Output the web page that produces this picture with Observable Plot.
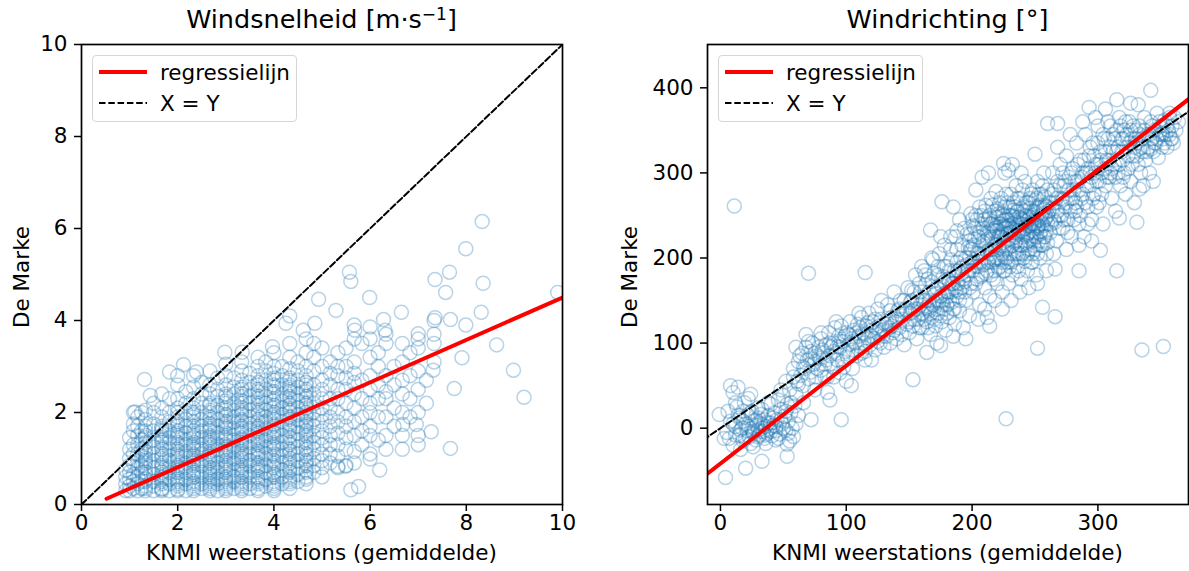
<!DOCTYPE html>
<html><head><meta charset="utf-8">
<script src="https://cdn.jsdelivr.net/npm/d3@7"></script>
<script src="https://cdn.jsdelivr.net/npm/@observablehq/plot@0.6"></script>
<style>
body{margin:0;background:#fff;}
#wrap{position:relative;width:1189px;height:571px;overflow:hidden;font-family:"DejaVu Sans",sans-serif;color:#000;background:#fff}
.panel{position:absolute;top:0}
.txt{position:absolute;white-space:nowrap;line-height:1;transform:translate(-50%,-50%)}
.ylab{position:absolute;white-space:nowrap;line-height:1;transform:translate(-50%,-50%) rotate(-90deg)}
.title{font-size:25.5px}
.title sup{font-size:17px;vertical-align:0.5em;line-height:0}
.axlab{font-size:21.5px}
.legend{position:absolute;width:205px;height:67px;border:1px solid #d6d6d6;border-radius:4px;background:rgba(255,255,255,0.85);box-sizing:border-box}
.legend svg{position:absolute;left:0;top:0}
.legend .lt{position:absolute;left:67px;font-size:21.5px;line-height:1;white-space:nowrap}
</style></head>
<body><div id="wrap"></div>
<script>
// ---------- Data: Windsnelheid [m/s] (KNMI mean vs De Marke) ----------
const speedTicks = [0, 2, 4, 6, 8, 10];
const speedColX = [0.92,1.0,1.08,1.17,1.25,1.33,1.5,1.67,1.83,2.0,2.17,2.33,2.5,2.67,2.83,3.0,3.17,3.33,3.5,3.67,3.83,4.0,4.17,4.33,4.5,4.67,4.83,5.0,5.17,5.33,5.5,5.67,5.83,6.0,6.17,6.33,6.5,6.67,6.83,7.0,7.17,7.33];
const speedColY = [
  [0.3,0.45,0.6,0.75],
  [0.3,0.4,0.55,0.7,0.85,1.0,1.2,1.45],
  [0.35,0.5,0.65,0.9,1.1,1.3,1.6,1.75,2.0],
  [0.3,0.45,0.6,0.8,0.95,1.1,1.3,1.5,1.7,1.9],
  [0.35,0.5,0.7,0.85,1.05,1.2,1.4,1.6,2.0],
  [0.3,0.4,0.55,0.7,0.9,1.0,1.15,1.35,1.5,1.7,1.85,2.05],
  [0.3,0.4,0.5,0.65,0.8,0.95,1.1,1.25,1.4,1.6,1.75,2.0,2.2],
  [0.3,0.35,0.5,0.6,0.7,0.85,1.0,1.1,1.25,1.4,1.5,1.65,1.9,2.1,2.4],
  [0.3,0.45,0.55,0.7,0.8,0.95,1.05,1.2,1.35,1.45,1.6,1.8,2.0,2.3],
  [0.3,0.4,0.5,0.6,0.75,0.85,1.0,1.1,1.2,1.35,1.5,1.6,1.75,1.9,2.1,2.3,2.6,2.8],
  [0.3,0.45,0.55,0.7,0.8,0.9,1.05,1.15,1.3,1.4,1.55,1.7,1.85,2.0,2.2,2.45],
  [0.3,0.4,0.5,0.65,0.75,0.9,1.0,1.1,1.25,1.35,1.5,1.6,1.8,1.95,2.1,2.3,2.55,2.8],
  [0.35,0.45,0.6,0.7,0.85,0.95,1.1,1.2,1.3,1.45,1.6,1.7,1.85,2.0,2.2,2.4,2.65],
  [0.3,0.4,0.5,0.6,0.7,0.8,0.95,1.05,1.15,1.3,1.4,1.5,1.65,1.75,1.9,2.05,2.2,2.4,2.6,2.9],
  [0.3,0.45,0.55,0.7,0.8,0.9,1.05,1.2,1.3,1.45,1.55,1.7,1.85,2.0,2.15,2.35,2.5,2.75],
  [0.3,0.4,0.5,0.6,0.75,0.85,0.95,1.1,1.2,1.3,1.45,1.55,1.7,1.8,1.95,2.1,2.25,2.4,2.6,2.8,3.05],
  [0.35,0.5,0.6,0.75,0.9,1.0,1.15,1.25,1.4,1.5,1.65,1.8,1.9,2.05,2.2,2.4,2.55,2.75],
  [0.3,0.4,0.5,0.65,0.75,0.85,1.0,1.1,1.2,1.35,1.45,1.6,1.7,1.85,2.0,2.1,2.25,2.4,2.55,2.7,2.9,3.1],
  [0.35,0.45,0.6,0.7,0.85,0.95,1.1,1.25,1.35,1.5,1.65,1.75,1.9,2.05,2.2,2.35,2.5,2.65,2.85],
  [0.3,0.45,0.55,0.7,0.8,0.9,1.05,1.15,1.3,1.4,1.55,1.65,1.8,1.95,2.05,2.2,2.35,2.5,2.65,2.8,3.0,3.2],
  [0.4,0.55,0.7,0.85,1.0,1.1,1.25,1.4,1.5,1.65,1.8,1.9,2.05,2.2,2.35,2.5,2.7,2.9,3.1],
  [0.3,0.4,0.5,0.65,0.8,0.9,1.05,1.2,1.3,1.45,1.55,1.7,1.85,1.95,2.1,2.25,2.4,2.55,2.7,2.85,3.0,3.3],
  [0.45,0.6,0.75,0.9,1.05,1.2,1.35,1.5,1.65,1.8,1.95,2.1,2.25,2.4,2.6,2.8,3.0],
  [0.35,0.5,0.6,0.75,0.9,1.0,1.15,1.3,1.45,1.6,1.7,1.85,2.0,2.1,2.2,2.35,2.5,2.6,2.75,2.95,3.2,3.5],
  [0.5,0.65,0.8,0.95,1.1,1.25,1.4,1.55,1.7,1.85,1.95,2.1,2.25,2.4,2.55,2.7,2.9,3.1],
  [0.45,0.6,0.75,0.9,1.05,1.2,1.35,1.5,1.6,1.75,1.9,2.0,2.15,2.3,2.45,2.6,2.8,3.0,3.3,3.6],
  [0.7,0.85,1.0,1.2,1.35,1.5,1.7,1.85,2.0,2.2,2.4,2.6,2.9,3.2,3.5],
  [0.6,0.8,0.95,1.1,1.3,1.45,1.6,1.8,1.95,2.1,2.3,2.5,2.7,3.0,3.4],
  [0.9,1.1,1.3,1.5,1.7,1.9,2.1,2.3,2.6,2.85,3.1],
  [0.8,1.05,1.3,1.55,1.8,2.0,2.3,2.5,2.8,3.0,3.3],
  [0.85,1.2,1.45,1.7,1.9,2.2,2.5,2.75,3.0,3.4],
  [0.9,1.15,1.5,1.8,2.1,2.4,2.65,2.85,3.1,3.6,3.9],
  [1.3,1.6,1.9,2.3,2.7,3.5],
  [1.1,1.5,1.7,2.0,2.2,2.5,2.8,3.2,3.6],
  [1.4,1.9,2.3,2.6,3.0,3.3],
  [1.2,1.5,1.9,2.3,2.45,2.8,3.5,3.7],
  [1.7,2.1,2.6,3.0],
  [1.2,1.5,2.0,2.4,2.7,3.1,3.5],
  [1.9,2.3,2.8,3.3],
  [1.5,2.0,2.5,2.9,3.4,3.6],
  [2.2,2.7],
  [3.1,3.5,3.7,4.0]
];
// extra readings in the densest columns (KNMI values at thirds of m/s)
const speedDenseX = [1.33,1.67,2.0,2.33,2.67,3.0,3.33,3.67,4.0,4.33,4.67];
const speedDenseY = [
  [0.35,0.5,0.65,0.8,0.95,1.1,1.25,1.45,1.6],
  [0.33,0.45,0.55,0.65,0.8,0.9,1.05,1.2,1.35,1.45,1.6,1.7],
  [0.33,0.45,0.55,0.7,0.8,0.95,1.05,1.15,1.3,1.45,1.55,1.7,1.8,2.0],
  [0.35,0.45,0.6,0.7,0.85,0.95,1.05,1.2,1.3,1.45,1.55,1.7,1.9,2.0],
  [0.35,0.45,0.55,0.65,0.75,0.9,1.0,1.1,1.25,1.35,1.45,1.6,1.7,1.85,2.0,2.15],
  [0.35,0.45,0.55,0.7,0.8,0.9,1.05,1.15,1.25,1.4,1.5,1.65,1.75,1.9,2.05,2.2,2.35],
  [0.35,0.45,0.6,0.7,0.8,0.95,1.05,1.15,1.3,1.4,1.55,1.65,1.8,1.95,2.05,2.2,2.35,2.5],
  [0.35,0.5,0.6,0.75,0.85,1.0,1.1,1.2,1.35,1.45,1.6,1.7,1.85,2.0,2.15,2.3,2.45,2.6],
  [0.35,0.45,0.6,0.7,0.85,0.95,1.1,1.25,1.35,1.5,1.6,1.75,1.9,2.0,2.15,2.3,2.45,2.6,2.75],
  [0.45,0.55,0.7,0.8,0.95,1.1,1.2,1.35,1.5,1.65,1.75,1.9,2.05,2.15,2.3,2.45,2.55,2.7],
  [0.55,0.7,0.85,0.95,1.1,1.25,1.4,1.55,1.7,1.8,1.95,2.1,2.2,2.35,2.5,2.65]
];
const speedOutliers = [
  [8.33,6.15],[7.99,5.56],[5.57,5.05],[5.6,4.85],[7.65,5.05],[7.35,4.89],[8.35,4.81],[7.57,4.61],
  [5.99,4.5],[4.93,4.46],[5.29,4.22],[6.65,4.18],[8.31,4.18],[9.9,4.61],[4.33,4.1],[4.25,3.94],
  [4.85,3.94],[6.28,4.02],[7.35,4.06],[7.67,4.02],[7.99,3.9],[4.61,3.79],[5.68,3.79],[6.0,3.86],
  [6.31,3.79],[7.0,3.71],[8.63,3.47],[7.91,3.19],[7.31,2.92],[8.98,2.92],[7.75,2.52],[9.2,2.33],
  [7.27,1.58],[7.67,1.22],[7.0,1.3],[6.96,1.74],[6.68,1.74],[6.2,0.75],[6.0,0.99],[5.6,0.32],
  [5.76,0.39],[5.33,0.83],[5.49,0.83],[1.31,2.72],[1.43,2.37],[1.11,2.01],[1.83,2.88],[2.12,3.04],
  [2.39,2.88],[2.98,3.31],[3.34,3.31],[3.97,3.43]
];
// regression line: De Marke = slope * KNMI + intercept
const speedReg = {slope: 0.4616, intercept: -0.116, from: 0.52, to: 10};

// ---------- Data: Windrichting [deg] ----------
const dirXTicks = [0, 100, 200, 300];
const dirYTicks = [0, 100, 200, 300, 400];
const dirPoints = [
  [5,-5],[8,8],[10,-20],[12,2],[13,25],[15,-8],[15,12],[17,0],[18,-15],[19,30],[20,5],[21,-3],[22,15],[23,-10],[24,40],[25,0],[25,20],[26,-6],[27,8],[28,-14],[29,3],[30,-2],[30,12],[31,-8],[32,5],[33,0],[33,22],[34,-4],[35,10],[35,-12],[36,2],[37,-6],[38,15],[39,-1],[40,6],[40,28],[41,-9],[42,3],[43,18],[44,-3],[45,10],[46,33],[47,-7],[48,22],[49,5],[50,38],[51,14],[52,-2],[53,28],[54,8],[55,45],[56,18],[57,0],[58,60],[59,26],[60,40],[58,-10],[62,15],[10,42],[14,48],[22,35],[7,-12],[16,-25],[26,-22],[36,-18],[55,-15],
  [62,78],[64,62],[65,88],[66,50],[67,70],[68,95],[70,58],[71,82],[72,66],[73,100],[74,75],[75,88],[76,60],[77,70],[78,95],[79,82],[80,105],[80,68],[82,88],[83,75],[84,98],[85,60],[86,112],[87,85],[88,95],[89,72],[90,100],[91,118],[92,88],[93,80],[94,108],[95,95],[96,120],[97,78],[98,102],[99,90],[100,112],[101,84],[102,98],[103,125],[104,105],[105,92],[106,115],[107,100],[108,85],[109,122],[110,108],[111,96],[112,130],[113,112],[114,100],[115,90],[116,120],[117,106],[118,135],[119,98],[120,115],[121,125],[122,105],[123,92],[124,118],[125,140],[126,110],[127,100],[128,128],[129,115],[130,95],[131,122],[132,108],[133,145],[134,118],[135,100],[136,130],[137,112],[138,160],[139,125],[140,105],[141,138],[142,118],[143,150],[144,110],[145,128],[146,98],[147,140],[148,122],[149,165],[150,112],[66,30],[75,45],[90,60],[105,70],[120,80],[85,42],[100,55],
  [151,135],[152,150],[153,120],[154,160],[155,140],[156,105],[157,128],[158,170],[159,145],[160,118],[161,135],[162,185],[163,150],[164,125],[165,140],[166,160],[167,110],[168,130],[169,198],[170,148],[171,120],[172,165],[173,135],[174,205],[175,155],[176,125],[177,178],[178,140],[179,115],[180,190],[181,160],[182,130],[183,210],[184,148],[185,170],[186,122],[187,225],[188,155],[189,185],[190,138],[191,200],[192,165],[193,118],[194,235],[195,150],[196,180],[197,212],[198,132],[199,170],[200,245],[172,100],[185,108],[195,105],[160,190],[175,225],[190,245],[180,145],[165,175],[155,180],[188,195],[178,158],[193,190],[186,140],[198,220],[182,172],[170,182],
  [201,215],[201,160],[202,235],[203,190],[203,250],[204,175],[205,225],[205,205],[206,260],[206,145],[207,195],[208,240],[208,180],[209,218],[210,255],[210,165],[211,200],[212,230],[212,185],[213,245],[214,210],[214,155],[215,270],[215,225],[216,195],[216,240],[217,175],[218,215],[218,255],[219,200],[220,232],[220,170],[221,248],[221,210],[222,190],[222,265],[223,225],[223,240],[224,205],[224,160],[225,250],[225,218],[226,185],[226,235],[227,275],[227,200],[228,245],[228,228],[229,170],[229,212],[230,260],[230,238],[231,195],[231,222],[232,250],[232,180],[233,230],[233,265],[234,208],[234,242],[235,285],[235,220],[236,190],[236,255],[237,232],[237,205],[238,248],[238,270],[239,215],[239,175],[240,240],[240,225],[241,260],[241,200],[242,235],[242,290],[243,218],[243,250],[244,185],[244,228],[245,265],[245,245],[246,210],[246,238],[247,275],[247,222],[248,195],[248,255],[249,240],[249,230],[250,268],[250,210],[251,248],[251,180],[252,235],[252,290],[253,220],[253,260],[254,245],[254,200],[255,275],[255,232],[256,252],[256,215],[257,238],[257,300],[258,262],[258,225],[259,205],[259,248],[260,280],[260,240],[203,280],[208,295],[213,300],[219,278],[226,300],[232,310],[210,140],[218,150],[224,140],[231,150],[238,160],[245,165],[252,170],[259,185],[205,128],[212,130],
  [261,255],[262,230],[263,275],[264,300],[265,245],[266,265],[267,220],[268,290],[269,250],[270,310],[271,270],[272,235],[273,285],[274,260],[275,320],[276,245],[277,295],[278,270],[279,225],[280,305],[281,280],[282,255],[283,335],[284,290],[285,240],[286,315],[287,270],[288,300],[289,225],[290,345],[291,285],[292,260],[293,320],[294,300],[295,245],[296,335],[297,275],[298,310],[299,290],[300,355],[301,265],[302,325],[303,300],[304,240],[305,340],[306,285],[307,315],[308,360],[309,295],[310,330],[311,270],[312,345],[313,310],[314,255],[315,325],[316,300],[317,365],[318,285],[319,340],[320,315],[321,350],[322,275],[323,330],[324,305],[325,360],[326,290],[327,340],[328,320],[329,265],[330,350],[265,205],[275,210],[285,215],[295,220],[268,330],[278,345],[288,360],[298,365],[306,375],[272,300],[282,265],[292,305],[300,310],[310,300],[320,295],
  [331,335],[332,310],[333,355],[334,300],[335,340],[336,325],[337,365],[338,315],[339,345],[340,330],[341,300],[342,360],[343,340],[344,325],[345,350],[346,335],[347,370],[348,318],[349,345],[350,355],[351,330],[352,340],[353,362],[354,345],[355,330],[356,350],[357,365],[358,340],[359,355],[360,335],[362,350],[364,360],[336,285],[344,290],[332,380],[326,382],
  [11,261],[70,182],[115,183],[96,10],[153,57],[227,11],[252,94],[335,92],[352,96],[4,-58],[20,-47],[33,-39],[53,-33],[176,266],[185,260],[167,233],[315,185],[331,242],[342,397],[315,386],[256,142],[266,131],[214,120],[175,97],[164,89],[104,50],[87,33],[72,10],[8,50],[-1,16],[53,-19],[285,185],[266,187],[302,209],[317,247],[333,281],[333,328],[342,328],[351,347],[357,370],[293,377],[268,358],[260,358],[225,311],[229,303],[239,300],[250,322],[199,252]
];
const dirPointsDense = [
  [198,200],[199,228],[200,185],[200,210],[201,238],[202,195],[202,222],[203,170],[204,205],[204,245],[205,190],[206,230],[206,212],[207,250],[207,178],[208,205],[209,235],[209,192],[210,220],[210,245],[211,182],[211,262],[212,208],[213,228],[213,195],[214,250],[214,232],[215,180],[215,205],[216,222],[216,262],[217,238],[217,198],[218,185],[218,232],[219,248],[219,215],[220,200],[220,258],[221,225],[221,188],[222,240],[222,212],[223,270],[223,198],[224,228],[224,252],[225,185],[225,238],[226,215],[226,260],[227,228],[227,245],[228,195],[228,265],[229,238],[229,222],[230,205],[230,250],[231,235],[231,275],[232,215],[232,240],[233,198],[233,248],[234,260],[234,225],[235,238],[235,205],[236,270],[236,228],[237,248],[237,185],[238,235],[238,215],[239,258],[239,240],[240,205],[240,280],[241,228],[241,245],[242,215],[242,255],[243,238],[243,265],[244,205],[244,248],[245,230],[245,220],[246,258],[246,270],[247,240],[247,195],[248,232],[248,280],[249,250],[249,215],[250,240],[250,255],[251,225],[251,270],[252,245],[252,205],[253,275],[253,238],[254,228],[254,262],[255,250],[255,215],[256,240],[256,285],[257,258],[257,225],[258,245],[258,272],[259,232],[259,260],[260,250],[260,218],
  [262,265],[263,240],[264,258],[265,280],[266,242],[267,270],[268,255],[269,235],[270,285],[271,250],[272,268],[273,245],[274,290],[275,265],[276,230],[277,280],[278,255],[279,300],[280,270],[281,245],[282,290],[283,260],[284,310],[285,280],[286,250],[287,295],[288,275],[289,315],[290,265],[291,300],[292,240],[293,285],[294,330],[295,295],[296,270],[297,320],[298,300],[299,260],[300,335],[301,290],[302,315],[303,275],[304,345],[305,305],[306,325],[307,295],[308,340],[309,315],[310,355],[311,305],[312,325],[313,340],[314,295],[315,350],[316,330],[317,310],[318,355],[319,325],[320,340],[321,300],[322,360],[323,345],[324,320],[325,335],[326,350],[327,310],[328,355],[329,330],[330,340],[331,320],[333,345],[335,330],[337,350],[339,325],[341,345],[343,355],[345,335],[347,340],[349,360],[351,345],[353,335],[355,355],[357,345],[359,340],[361,365],
  [140,128],[142,140],[144,132],[146,150],[148,138],[150,125],[151,148],[152,162],[153,138],[154,128],[156,152],[157,140],[158,118],[159,160],[160,135],[161,150],[162,128],[163,168],[164,142],[165,118],[166,150],[167,135],[168,172],[169,145],[170,128],[171,158],[172,140],[173,180],[174,150],[175,132],[176,168],[177,145],[178,190],[179,155],[180,135],[181,175],[182,150],[183,198],[184,160],[185,140],[186,185],[187,162],[188,210],[189,170],[190,150],[191,188],[192,215],[193,175],[194,160],[195,200],[196,228],[197,185],[198,165],[199,210],[168,200],[178,215],[188,232],[183,225],[173,190],[163,180],
  [58,70],[61,55],[63,85],[66,72],[69,80],[72,90],[75,78],[78,84],[81,92],[84,80],[87,100],[90,90],[93,96],[96,102],[99,108],[102,110],[105,102],[108,112],[111,118],[114,110],[117,124],[120,108],[123,128],[126,120],[129,108],[132,125],[135,138],[138,115],[70,102],[80,112],[92,125],[110,135],[128,150],[98,72],[112,88],[125,102],[136,120],[60,95],[68,110],[83,60],[95,65],[115,80],
  [10,5],[12,-8],[14,15],[16,-2],[18,8],[20,-12],[22,2],[24,18],[26,-4],[28,10],[30,-10],[32,16],[34,4],[36,-8],[38,6],[40,-4],[42,12],[44,2],[46,-12],[48,10],[50,0],[52,20],[54,-6],[56,30],[24,-18],[30,24],[38,30],[44,-14],[18,20],[12,30],[6,20],[3,-12],[60,5],[62,52],[48,45],[52,55],
  [212,222],[216,210],[219,235],[222,226],[225,244],[228,214],[231,230],[234,218],[237,240],[240,232],[243,226],[246,248],[249,222],[252,238],[215,240],[221,252],[227,236],[233,256],[239,246],[245,238],[251,258],[218,198],[224,195],[230,190],[236,200],[242,196],[248,205],[254,215],
  [176,150],[180,160],[184,170],[188,178],[192,182],[196,192],[172,150],[178,172],[186,165],[194,172],[200,195],[166,138],[170,162],[182,185],[190,160]
];
const dirReg = {slope: 1.151, intercept: -41.6, from: -12, to: 380};
const dirXDomain = [-10.3, 372];
const dirYDomain = [-89.7, 450.9];

// ---------- build ----------
const speedPoints = speedColX.flatMap((x, i) => speedColY[i].map(y => ({x, y})))
  .concat(speedDenseX.flatMap((x, i) => speedDenseY[i].map(y => ({x, y}))))
  .concat(speedOutliers.map(([x, y]) => ({x, y})));
const dirData = dirPoints.concat(dirPointsDense).map(([x, y]) => ({x, y}));
const regLine = r => [r.from, r.to].map(x => ({x, y: r.slope * x + r.intercept}));

const styleObj = {fontFamily: "'DejaVu Sans', sans-serif", fontSize: "21.5px", color: "#000", background: "transparent", overflow: "visible"};
const dotOpts = {x: "x", y: "y", r: 7, stroke: "#1f77b4", strokeOpacity: 0.32, strokeWidth: 1.5, fill: "none"};
const dashOpts = {x: "x", y: "y", stroke: "black", strokeWidth: 2, strokeDasharray: "6.5,2.8", clip: true};
const redOpts = {x: "x", y: "y", stroke: "#ff0000", strokeWidth: 4, clip: true};

function panel(cfg) {
  return Plot.plot({
    width: cfg.width, height: 571,
    marginLeft: cfg.ml, marginRight: cfg.mr, marginTop: 44, marginBottom: 67,
    style: styleObj,
    x: {domain: cfg.xd, label: null},
    y: {domain: cfg.yd, label: null},
    marks: [
      Plot.dot(cfg.data, {...dotOpts, clip: true}),
      Plot.line(cfg.ident, dashOpts),
      Plot.line(cfg.reg, redOpts),
      Plot.axisX({ticks: cfg.xt, tickSize: 7, tickPadding: 3, strokeWidth: 1.5, label: null, tickFormat: d => String(d)}),
      Plot.axisY({ticks: cfg.yt, tickSize: 7, tickPadding: 7, strokeWidth: 1.5, label: null, tickFormat: d => String(d)}),
      Plot.frame({stroke: "black", strokeWidth: 1.7})
    ]
  });
}

const wrap = document.getElementById("wrap");

const left = panel({width: 590, ml: 81, mr: 28, xd: [0, 10], yd: [0, 10], xt: speedTicks, yt: speedTicks,
  data: speedPoints, ident: [{x: 0, y: 0}, {x: 10, y: 10}], reg: regLine(speedReg)});
left.classList.add("panel"); left.style.left = "0px";
wrap.appendChild(left);

const right = panel({width: 589, ml: 107, mr: 1, xd: dirXDomain, yd: dirYDomain, xt: dirXTicks, yt: dirYTicks,
  data: dirData, ident: [{x: -20, y: -20}, {x: 400, y: 400}], reg: regLine(dirReg)});
right.classList.add("panel"); right.style.left = "600px";
wrap.appendChild(right);

function addText(cls, html, x, y) {
  const d = document.createElement("div");
  d.className = cls; d.innerHTML = html;
  d.style.left = x + "px"; d.style.top = y + "px";
  wrap.appendChild(d);
}
addText("txt title", "Windsnelheid [m·s<sup>−1</sup>]", 321.5, 20);
addText("txt title", "Windrichting [°]", 947.5, 20);
addText("txt axlab", "KNMI weerstations (gemiddelde)", 321.5, 553);
addText("txt axlab", "KNMI weerstations (gemiddelde)", 947.5, 553);
addText("ylab axlab", "De Marke", 22, 277);
addText("ylab axlab", "De Marke", 630, 277);

function addLegend(x, y) {
  const L = document.createElement("div");
  L.className = "legend"; L.style.left = x + "px"; L.style.top = y + "px";
  L.innerHTML = `<svg width="205" height="67">
      <line x1="6" x2="54" y1="16" y2="16" stroke="#ff0000" stroke-width="4"/>
      <line x1="6" x2="54" y1="47" y2="47" stroke="black" stroke-width="2" stroke-dasharray="6.5,2.8"/>
    </svg>
    <div class="lt" style="top:6px">regressielijn</div>
    <div class="lt" style="top:37px">X = Y</div>`;
  wrap.appendChild(L);
}
addLegend(92, 55);
addLegend(718, 55);
</script>
</body></html>
